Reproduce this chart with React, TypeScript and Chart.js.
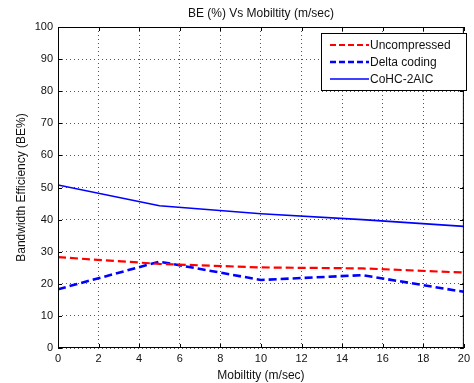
import React, { useEffect, useRef } from "react";
import { Chart, registerables } from "chart.js";

Chart.register(...registerables);

const mobility = [0, 5, 10, 15, 20];
const uncompressed = [28.3, 26.2, 25.1, 24.8, 23.5];
const deltaCoding = [18.3, 26.9, 21.2, 22.7, 17.5];
const cohc = [50.8, 44.3, 41.8, 40.0, 37.9];
const xTicks = [0, 2, 4, 6, 8, 10, 12, 14, 16, 18, 20];
const yTicks = [0, 10, 20, 30, 40, 50, 60, 70, 80, 90, 100];

const seriesNames = ["Uncompressed", "Delta coding", "CoHC-2AIC"];
const titleText = "BE (%) Vs Mobiltity (m/sec)";
const xTitle = "Mobiltity (m/sec)";
const yTitle = "Bandwidth Efficiency (BE%)";

const FONT = "'Liberation Sans', Arial, sans-serif";

export default function App() {
  const ref = useRef<HTMLCanvasElement | null>(null);

  useEffect(() => {
    document.body.style.margin = "0";
    const canvas = ref.current;
    if (!canvas) return;

    const styles = [
      { color: "#ff0000", width: 2.2, dash: [8, 4] },
      { color: "#0000ff", width: 2.6, dash: [8, 4] },
      { color: "#0000ff", width: 1.6, dash: [] as number[] },
    ];
    const allData = [uncompressed, deltaCoding, cohc];

    const framePlugin = {
      id: "frame",
      afterDraw(chart: any) {
        const { ctx, chartArea } = chart;
        const { left, right, top, bottom } = chartArea;
        const xs = chart.scales.x;
        const ys = chart.scales.y;
        ctx.save();
        ctx.strokeStyle = "#000";
        ctx.lineWidth = 1;
        ctx.setLineDash([]);
        ctx.strokeRect(left + 0.5, top + 0.5, right - left - 1, bottom - top - 1);
        ctx.beginPath();
        xTicks.forEach((t) => {
          const px = Math.round(xs.getPixelForValue(t)) + 0.5;
          ctx.moveTo(px, bottom);
          ctx.lineTo(px, bottom - 4);
          ctx.moveTo(px, top);
          ctx.lineTo(px, top + 4);
        });
        yTicks.forEach((t) => {
          const py = Math.round(ys.getPixelForValue(t)) + 0.5;
          ctx.moveTo(left, py);
          ctx.lineTo(left + 4, py);
          ctx.moveTo(right, py);
          ctx.lineTo(right - 4, py);
        });
        ctx.stroke();

        // title
        ctx.fillStyle = "#111";
        ctx.font = `12px ${FONT}`;
        ctx.textAlign = "center";
        ctx.textBaseline = "middle";
        ctx.fillText(titleText, (left + right) / 2, 14);

        // legend
        const lx = 321, ly = 33, lw = 145, lh = 57;
        ctx.fillStyle = "#fff";
        ctx.fillRect(lx, ly, lw, lh);
        ctx.strokeStyle = "#000";
        ctx.lineWidth = 1;
        ctx.strokeRect(lx + 0.5, ly + 0.5, lw, lh);
        seriesNames.forEach((name, i) => {
          const y = ly + 12 + i * 17;
          const s = styles[i];
          ctx.save();
          ctx.strokeStyle = s.color;
          ctx.lineWidth = s.width;
          ctx.setLineDash(s.dash.length ? [6, 3] : []);
          ctx.beginPath();
          ctx.moveTo(330, y);
          ctx.lineTo(369, y);
          ctx.stroke();
          ctx.restore();
          ctx.fillStyle = "#111";
          ctx.font = `12px ${FONT}`;
          ctx.textAlign = "left";
          ctx.textBaseline = "middle";
          ctx.fillText(name, 370, y + 1);
        });
        ctx.restore();
      },
    };

    const chart = new Chart(canvas, {
      type: "line",
      data: {
        datasets: seriesNames.map((name, i) => ({
          label: name,
          data: mobility.map((m, j) => ({ x: m, y: allData[i][j] })),
          borderColor: styles[i].color,
          borderWidth: styles[i].width,
          borderDash: styles[i].dash,
          pointRadius: 0,
          fill: false,
          tension: 0,
        })),
      },
      options: {
        animation: false,
        responsive: false,
        devicePixelRatio: 1,
        layout: { padding: { top: 27, right: 8, left: 0, bottom: 0 } },
        plugins: {
          legend: { display: false },
          title: { display: false },
          tooltip: { enabled: false },
        },
        scales: {
          x: {
            type: "linear",
            min: 0,
            max: 20,
            afterBuildTicks: (s: any) => {
              s.ticks = xTicks.map((v) => ({ value: v }));
            },
            afterFit: (s: any) => {
              s.height = 35;
            },
            ticks: {
              font: { size: 11, family: FONT },
              color: "#111",
              padding: 4,
              maxRotation: 0,
              autoSkip: false,
            },
            grid: { color: "#555", lineWidth: 1, drawTicks: false },
            border: { display: false, dash: [1, 3] },
            title: {
              display: true,
              text: xTitle,
              font: { size: 12, family: FONT },
              color: "#111",
              padding: { top: 0, bottom: 0 },
            },
          },
          y: {
            type: "linear",
            min: 0,
            max: 100,
            afterBuildTicks: (s: any) => {
              s.ticks = yTicks.map((v) => ({ value: v }));
            },
            afterFit: (s: any) => {
              s.width = 58;
            },
            ticks: {
              font: { size: 11, family: FONT },
              color: "#111",
              padding: 5,
              autoSkip: false,
            },
            grid: { color: "#555", lineWidth: 1, drawTicks: false },
            border: { display: false, dash: [1, 3] },
            title: {
              display: true,
              text: yTitle,
              font: { size: 12, family: FONT },
              color: "#111",
              padding: { top: 14, bottom: 0 },
            },
          },
        },
      },
      plugins: [framePlugin],
    });

    return () => chart.destroy();
  }, []);

  return <canvas ref={ref} width={474} height={383} style={{ display: "block" }} />;
}
